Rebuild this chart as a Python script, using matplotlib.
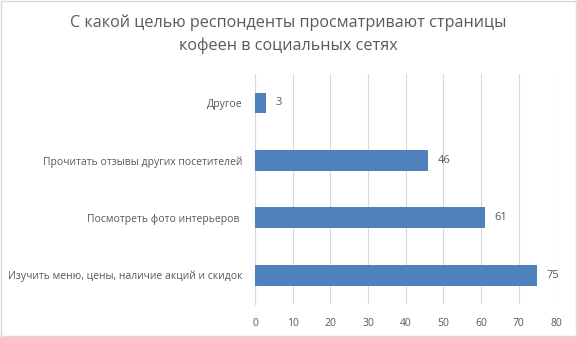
import matplotlib.pyplot as plt
from matplotlib.patches import Rectangle

plt.rcParams['font.family'] = ['Open Sans', 'DejaVu Sans']

categories = ['Изучить меню, цены, наличие акций и скидок',
              'Посмотреть фото интерьеров ',
              'Прочитать отзывы других посетителей',
              'Другое']
values = [75, 61, 46, 3]
ticks = [0, 10, 20, 30, 40, 50, 60, 70, 80]

text_color = '#595959'

fig = plt.figure(figsize=(5.77, 3.37), dpi=100)
ax = fig.add_axes([0.442, 0.098, 0.522, 0.682])

# horizontal bars, first category at the bottom
pos = range(len(categories))
ax.barh(pos, values, height=0.36, color='#4F81BD', zorder=3)
for p, v in zip(pos, values):
    ax.text(v + 2.5, p, str(v), va='center', ha='left', fontsize=8, color=text_color)

ax.set_xlim(0, 80)
ax.set_ylim(-0.5, len(categories) - 0.5)
ax.set_xticks(ticks)
ax.set_yticks(list(pos))
ax.set_yticklabels(categories)
ax.tick_params(axis='both', length=0, labelsize=7.5, colors=text_color)
ax.tick_params(axis='x', pad=10)
ax.tick_params(axis='y', pad=9)

ax.grid(axis='x', color='#d9d9d9', linewidth=0.8, zorder=0)
for s in ['top', 'right', 'bottom']:
    ax.spines[s].set_visible(False)
ax.spines['left'].set_color('#d9d9d9')
ax.spines['left'].set_linewidth(0.8)

fig.text(0.5, 0.898, 'С какой целью респонденты просматривают страницы\nкофеен в социальных сетях',
         ha='center', va='center', fontsize=11.6, color=text_color, linespacing=1.55)

# chart frame
fig.patches.append(Rectangle((0.002, 0.003), 0.996, 0.994, transform=fig.transFigure,
                             fill=False, edgecolor='#d9d9d9', linewidth=1))

fig.savefig('out.png', dpi=100, facecolor='white')
